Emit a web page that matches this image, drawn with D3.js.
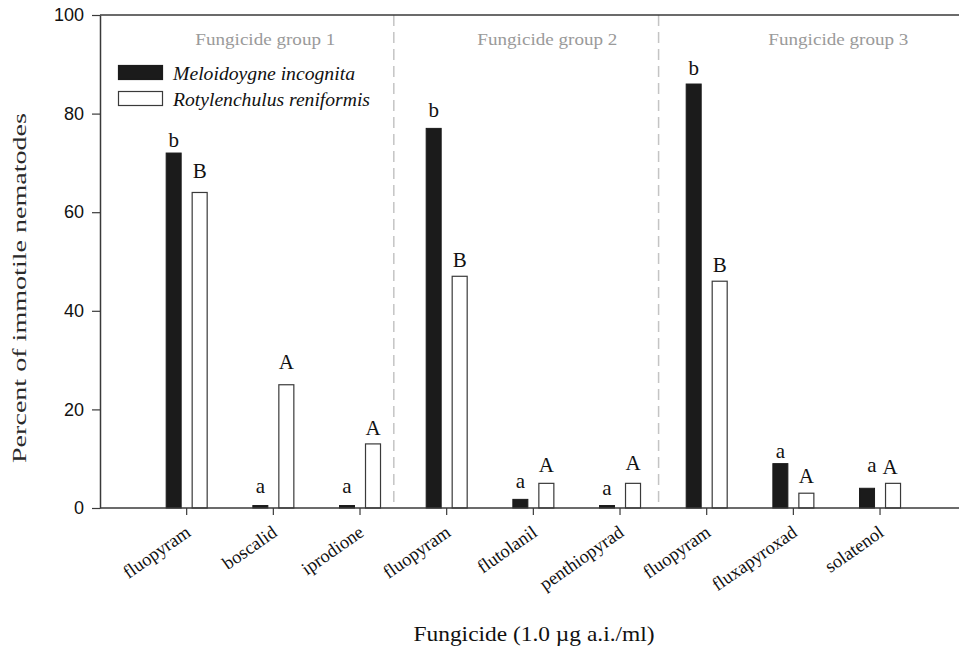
<!DOCTYPE html>
<html><head><meta charset="utf-8">
<script src="https://cdn.jsdelivr.net/npm/d3@7"></script>
<style>body{margin:0;background:#fff}svg{display:block}</style>
</head><body>
<svg id="chart" width="959" height="649"></svg>
<script>
const categories = ["fluopyram","boscalid","iprodione","fluopyram ","flutolanil","penthiopyrad","fluopyram  ","fluxapyroxad","solatenol"];
const meloidogyne = [72, 0.5, 0.5, 77, 1.75, 0.5, 86, 9, 4];
const rotylenchulus = [64, 25, 13, 47, 5, 5, 46, 3, 5];
const seMeloidogyne = [0.5, 1.8, 1.8, 1.6, 1.5, 1.3, 1.0, 0.3, 2.5];
const seRotylenchulus = [2.1, 2.3, 1.0, 1.1, 1.4, 1.9, 1.0, 1.2, 1.0];
const lettersM = ["b","a","a","b","a","a","b","a","a"];
const lettersR = ["B","A","A","B","A","A","B","A","A"];
const groupLabels = ["Fungicide group 1","Fungicide group 2","Fungicide group 3"];
const seriesNames = ["Meloidoygne incognita","Rotylenchulus reniformis"];
const yTicks = [0,20,40,60,80,100];

const svg = d3.select("#chart");
const serif = "'Liberation Serif','Times New Roman',serif";
const sans = "'Liberation Sans',Arial,sans-serif";
const L = 100, R = 959, T = 15, B = 508;
const step = 86.67;

const x = d3.scaleBand().domain(categories).range([L + step/2, L + step*9.5]);
const cx = c => x(c) + x.bandwidth()/2;
const y = d3.scaleLinear().domain([0,100]).range([B, T]);

// dividers
const dividers = [cx(categories[2]) + step*0.39, cx(categories[5]) + step*0.445];
svg.selectAll("line.div").data(dividers).enter().append("line")
  .attr("x1", d=>d).attr("x2", d=>d).attr("y1", T).attr("y2", B)
  .attr("stroke", "#c4c4c4").attr("stroke-width", 1.5).attr("stroke-dasharray", "11,6");

// group labels
const groupX = [cx(categories[1]) - 8, cx(categories[4]) + 14, cx(categories[7]) + 45];
svg.selectAll("text.grp").data(groupLabels).enter().append("text")
  .attr("x", (d,i)=>groupX[i]).attr("y", 45).attr("text-anchor","middle")
  .attr("font-family", serif).attr("font-size", 17).attr("fill", "#9a9a9a")
  .attr("textLength", 140).attr("lengthAdjust","spacingAndGlyphs")
  .text(d=>d);

// bars
const bw = 16, gap = 5;
svg.selectAll("rect.m").data(meloidogyne).enter().append("rect")
  .attr("x", (d,i)=>cx(categories[i]) - gap - bw + 0.5).attr("y", d=>y(d))
  .attr("width", bw - 1).attr("height", d=>y(0)-y(d))
  .attr("fill", "#1b1b1b").attr("stroke", "#1b1b1b").attr("stroke-width", 1);
svg.selectAll("rect.r").data(rotylenchulus).enter().append("rect")
  .attr("x", (d,i)=>cx(categories[i]) + gap + 0.5).attr("y", d=>y(d))
  .attr("width", bw - 1).attr("height", d=>y(0)-y(d))
  .attr("fill", "#fff").attr("stroke", "#3a3a3a").attr("stroke-width", 1.2);

// letters
svg.selectAll("text.lm").data(lettersM).enter().append("text")
  .attr("x", (d,i)=>cx(categories[i]) - gap - bw/2 + (i===8?5:0))
  .attr("y", (d,i)=>y(meloidogyne[i] + seMeloidogyne[i]) - 4)
  .attr("text-anchor","middle").attr("font-family", serif).attr("font-size", 21).attr("fill","#111")
  .text(d=>d);
svg.selectAll("text.lr").data(lettersR).enter().append("text")
  .attr("x", (d,i)=>cx(categories[i]) + gap + bw/2 + (i===8?-3:0))
  .attr("y", (d,i)=>y(rotylenchulus[i] + seRotylenchulus[i]) - 4)
  .attr("text-anchor","middle").attr("font-family", serif).attr("font-size", 21).attr("fill","#111")
  .text(d=>d);

// axes frame
const axisColor = "#3a3a3a";
svg.append("line").attr("x1", L).attr("x2", R).attr("y1", T).attr("y2", T).attr("stroke", axisColor).attr("stroke-width", 1.5);

const yAxis = svg.append("g").attr("transform", `translate(${L},0)`)
  .call(d3.axisLeft(y).tickValues(yTicks).tickSize(8).tickPadding(8).tickSizeOuter(0));
yAxis.select(".domain").attr("stroke", axisColor).attr("stroke-width", 1.5);
yAxis.selectAll(".tick line").attr("stroke", axisColor).attr("stroke-width", 1.2);
yAxis.selectAll(".tick text").attr("font-family", sans).attr("font-size", 18).attr("fill", "#111");

const xAxis = svg.append("g").attr("transform", `translate(0,${B})`)
  .call(d3.axisBottom(x).tickSize(7).tickSizeOuter(0));
xAxis.select(".domain").attr("d", `M${L},0H${R}`).attr("stroke", axisColor).attr("stroke-width", 1.5);
xAxis.selectAll(".tick line").attr("stroke", axisColor).attr("stroke-width", 1.2);
xAxis.selectAll(".tick text")
  .text(d=>d.trim())
  .attr("font-family", serif).attr("font-size", 18.5).attr("fill", "#111")
  .attr("text-anchor","end").attr("dy", null).attr("y", null)
  .attr("transform", "translate(5,27) rotate(-35)");

// legend
const legY = [65, 91];
svg.selectAll("rect.leg").data(seriesNames).enter().append("rect")
  .attr("x", 118.5).attr("y", (d,i)=>legY[i]+0.5).attr("width", 44).attr("height", 14)
  .attr("fill", (d,i)=> i===0 ? "#1b1b1b" : "#fff")
  .attr("stroke", (d,i)=> i===0 ? "#1b1b1b" : "#3a3a3a").attr("stroke-width", 1.2);
const legLen = [182, 197];
svg.selectAll("text.leg").data(seriesNames).enter().append("text")
  .attr("x", 173).attr("y", (d,i)=>legY[i]+15)
  .attr("font-family", serif).attr("font-style","italic").attr("font-size", 18).attr("fill","#111")
  .attr("textLength", (d,i)=>legLen[i]).attr("lengthAdjust","spacingAndGlyphs")
  .text(d=>d);

// axis titles
svg.append("text").attr("transform", "translate(26,288) rotate(-90)")
  .attr("text-anchor","middle").attr("font-family", serif).attr("font-size", 19.5).attr("fill","#2a2a2a")
  .attr("textLength", 350).attr("lengthAdjust","spacingAndGlyphs")
  .text("Percent of immotile nematodes");
svg.append("text").attr("x", 534).attr("y", 641)
  .attr("text-anchor","middle").attr("font-family", serif).attr("font-size", 21.5).attr("fill","#111")
  .attr("textLength", 241).attr("lengthAdjust","spacingAndGlyphs")
  .text("Fungicide (1.0 µg a.i./ml)");
</script>
</body></html>
